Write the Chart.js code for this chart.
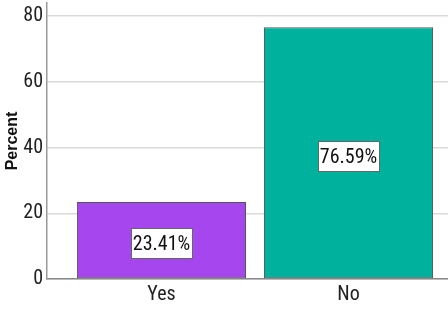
<!DOCTYPE html>
<html>
<head>
<meta charset="utf-8">
<script src="https://cdn.jsdelivr.net/npm/chart.js@4.4.1/dist/chart.umd.min.js"></script>
<style>
  html, body { margin: 0; padding: 0; background: #fff; }
  #wrap { width: 448px; height: 317px; position: relative; }
</style>
</head>
<body>
<div id="wrap"><canvas id="percentChart" aria-label="Bar chart of percent answering yes and no"></canvas></div>
<script>
const categories = ['Yes', 'No'];
const percents = [23.41, 76.59];
const barColors = ['#a546ef', '#00b19d'];
const yTicks = [0, 20, 40, 60, 80];

const FONT = '"Roboto Condensed", "Liberation Sans Narrow", Arial, sans-serif';

// white value boxes in the middle of each bar
const valueBoxes = {
  id: 'valueBoxes',
  afterDatasetsDraw(chart) {
    const { ctx } = chart;
    const meta = chart.getDatasetMeta(0);
    ctx.save();
    ctx.font = `20px ${FONT}`;
    ctx.textAlign = 'center';
    ctx.textBaseline = 'middle';
    meta.data.forEach((bar, i) => {
      const text = `${percents[i].toFixed(2)}%`;
      const w = Math.round(ctx.measureText(text).width + 4);
      const h = 30;
      const cx = Math.round(bar.x);
      const cy = Math.round((bar.y + bar.base) / 2 + 3);
      const x0 = Math.round(cx - w / 2);
      const y0 = Math.round(cy - h / 2);
      ctx.fillStyle = '#fff';
      ctx.fillRect(x0, y0, w, h);
      ctx.strokeStyle = '#666';
      ctx.lineWidth = 1;
      ctx.strokeRect(x0 + 0.5, y0 + 0.5, w, h);
      ctx.fillStyle = '#111';
      ctx.fillText(text, cx + 0.5, cy + 1.5);
    });
    ctx.restore();
  },
};

new Chart(document.getElementById('percentChart'), {
  type: 'bar',
  data: {
    datasets: [{
      label: 'Percent',
      data: categories.map((c, i) => ({ x: i, y: percents[i] })),
      backgroundColor: barColors,
      borderColor: '#555',
      borderWidth: 1,
      borderSkipped: false,
      categoryPercentage: 1,
      barPercentage: 0.904,
    }],
  },
  options: {
    responsive: true,
    maintainAspectRatio: false,
    animation: false,
    layout: { padding: { top: 3, right: 0, left: 0, bottom: 0 } },
    plugins: {
      legend: { display: false },
      tooltip: { enabled: false },
    },
    scales: {
      x: {
        type: 'linear',
        offset: false,
        min: -0.612,
        max: 1.532,
        afterBuildTicks: (scale) => { scale.ticks = categories.map((c, i) => ({ value: i })); },
        afterFit: (scale) => {
          scale.height = 38;
          scale.paddingLeft = 0;
          scale.paddingRight = 0;
        },
        ticks: {
          callback: (v) => categories[v] ?? '',
          color: '#222',
          font: { family: FONT, size: 20 },
          padding: 4,
          maxRotation: 0,
        },
        grid: { display: false, drawTicks: false },
        border: { display: true, color: '#8a8a8a', width: 1.5 },
      },
      y: {
        min: 0,
        max: 84,
        afterBuildTicks: (scale) => { scale.ticks = yTicks.map((v) => ({ value: v })); },
        afterFit: (scale) => {
          scale.width = 47;
          scale.paddingTop = 0;
          scale.paddingBottom = 0;
        },
        ticks: {
          color: '#222',
          font: { family: FONT, size: 20 },
          padding: 4,
        },
        grid: { color: '#dadada', lineWidth: 1.5, drawTicks: false },
        border: { display: true, color: '#9a9a9a', width: 1.5 },
        title: {
          display: true,
          text: 'Percent',
          color: '#111',
          font: { family: '"Liberation Sans", Arial, sans-serif', size: 16, weight: 'bold' },
          padding: { top: 3, bottom: 0 },
        },
      },
    },
  },
  plugins: [valueBoxes],
});
</script>
</body>
</html>
